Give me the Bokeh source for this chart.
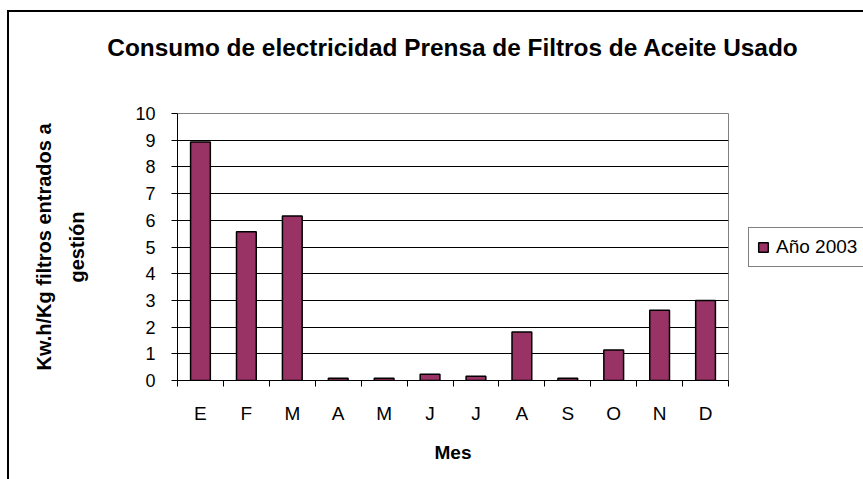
from bokeh.plotting import figure
from bokeh.models import (ColumnDataSource, LinearAxis, FixedTicker, Range1d, Grid,
                          Legend, LegendItem)
from bokeh.embed import file_html
from bokeh.resources import INLINE

# ---- data ----
months = ["E", "F", "M", "A", "M", "J", "J", "A", "S", "O", "N", "D"]
values = [8.93, 5.57, 6.16, 0.08, 0.08, 0.23, 0.16, 1.82, 0.08, 1.14, 2.63, 3.0]
series_name = "Año 2003"
title_text = "Consumo de electricidad Prensa de Filtros de Aceite Usado"
y_label_outer = "Kw.h/Kg filtros entrados a"
y_label_inner = "gestión"
x_label = "Mes"
y_ticks = list(range(0, 11))

FONT = "Liberation Sans"
BAR_COLOR = "#993366"

n = len(months)
centers = [i + 0.5 for i in range(n)]
bounds = list(range(n + 1))
source = ColumnDataSource(dict(x=centers, top=values))

p = figure(width=None, height=None, frame_width=551, frame_height=267,
           output_backend="svg", toolbar_location=None,
           x_range=Range1d(0, n), y_range=Range1d(0, 10),
           x_axis_type=None, y_axis_type=None,
           min_border_left=168, min_border_right=135,
           min_border_top=101, min_border_bottom=99)
# chart-area frame: only its left and top edges fall inside the window
p.styles = {"margin-left": "7px", "margin-top": "10px",
            "border-left": "2px solid black", "border-top": "2px solid black"}
p.title.visible = False
p.grid.visible = False
p.background_fill_color = "white"
p.border_fill_color = "white"
p.outline_line_color = "#808080"
p.outline_line_width = 1

# title, carried by an empty axis above the frame (centred on the frame)
tax = LinearAxis(ticker=FixedTicker(ticks=[]), axis_label=title_text)
tax.axis_line_color = None
tax.major_tick_out = 0
tax.major_tick_in = 0
tax.minor_tick_out = 0
tax.minor_tick_in = 0
tax.axis_label_text_font = FONT
tax.axis_label_text_font_size = "24.4px"
tax.axis_label_text_font_style = "bold"
tax.axis_label_text_color = "black"
tax.axis_label_standoff = 53
p.add_layout(tax, "above")

# horizontal grid lines (1..9)
p.add_layout(Grid(dimension=1, ticker=FixedTicker(ticks=y_ticks[1:-1]),
                  grid_line_color="black", grid_line_width=1))

# bars
r = p.vbar(x="x", top="top", width=0.43, bottom=0, source=source,
           fill_color=BAR_COLOR, line_color="black", line_width=1.5)

# y axis (inner, with ticks and the second label line)
yax = LinearAxis(ticker=FixedTicker(ticks=y_ticks), axis_label=y_label_inner)
yax.major_tick_out = 6
yax.major_tick_in = 0
yax.minor_tick_out = 0
yax.minor_tick_in = 0
yax.axis_line_color = "black"
yax.major_tick_line_color = "black"
yax.major_label_text_font = FONT
yax.major_label_text_font_size = "18px"
yax.major_label_text_color = "black"
yax.major_label_standoff = 16
yax.axis_label_text_font = FONT
yax.axis_label_text_font_size = "20px"
yax.axis_label_text_font_style = "bold"
yax.axis_label_text_color = "black"
yax.axis_label_standoff = 44
p.add_layout(yax, "left")

# outer y axis, only carries the first label line
yax2 = LinearAxis(ticker=FixedTicker(ticks=[]), axis_label=y_label_outer)
yax2.axis_line_color = None
yax2.major_tick_out = 0
yax2.major_tick_in = 0
yax2.minor_tick_out = 0
yax2.minor_tick_in = 0
yax2.axis_label_text_font = FONT
yax2.axis_label_text_font_size = "20px"
yax2.axis_label_text_font_style = "bold"
yax2.axis_label_text_color = "black"
yax2.axis_label_standoff = 9
p.add_layout(yax2, "left")

# x axis: month labels at category centres, tick marks at category boundaries
xax = LinearAxis(ticker=FixedTicker(ticks=centers, minor_ticks=bounds),
                 axis_label=x_label)
xax.major_label_overrides = {c: m for c, m in zip(centers, months)}
xax.axis_line_color = "black"
xax.major_tick_out = 0
xax.major_tick_in = 0
xax.minor_tick_out = 6
xax.minor_tick_in = 0
xax.minor_tick_line_color = "black"
xax.major_label_text_font = FONT
xax.major_label_text_font_size = "19px"
xax.major_label_text_color = "black"
xax.major_label_standoff = 16
xax.axis_label_text_font = FONT
xax.axis_label_text_font_size = "19px"
xax.axis_label_text_font_style = "bold"
xax.axis_label_text_color = "black"
xax.axis_label_standoff = 15
p.add_layout(xax, "below")

# legend in the right panel, 20px right of the plot frame
legend = Legend(items=[LegendItem(label=series_name, renderers=[r])],
                location="center_left", margin=20, orientation="vertical",
                label_text_font=FONT, label_text_font_size="19px",
                label_text_color="black", glyph_width=12, glyph_height=12,
                label_standoff=7, label_width=84, label_height=20,
                padding=8, spacing=0,
                border_line_color="black", border_line_width=1.5,
                background_fill_color="white", background_fill_alpha=1)
p.add_layout(legend, "right")

open("out.html", "w").write(file_html(p, INLINE))
